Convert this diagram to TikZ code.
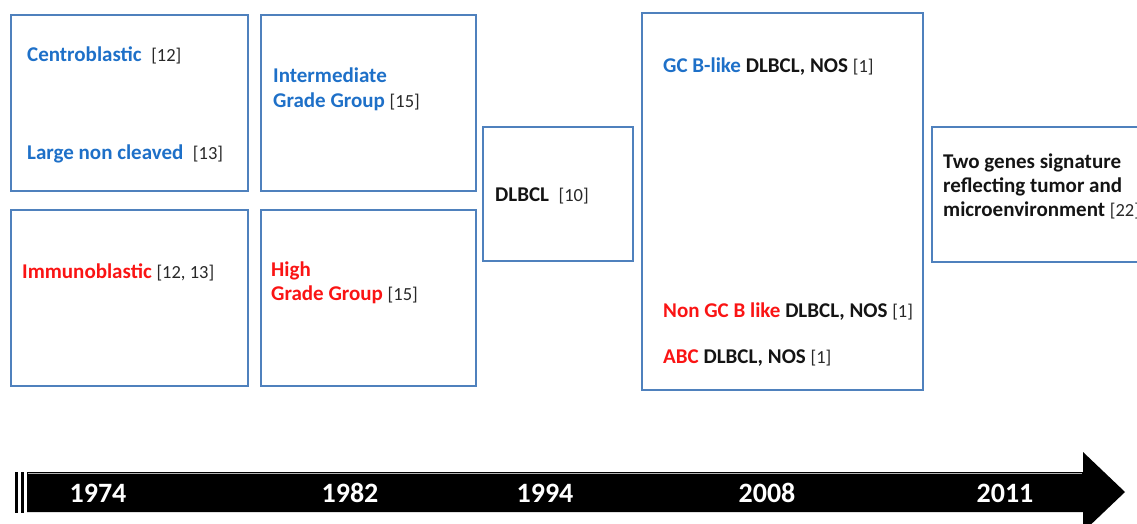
\documentclass[tikz,border=0pt]{standalone}
\usepackage{fontspec}
\setmainfont{Carlito}
\definecolor{boxblue}{RGB}{79,129,189}
\definecolor{tblue}{RGB}{30,112,200}
\definecolor{tred}{RGB}{250,20,20}
\definecolor{tblack}{RGB}{20,20,20}
\definecolor{refgray}{RGB}{40,40,40}
\newcommand{\bl}[1]{\textcolor{tblue}{\bfseries #1}}
\newcommand{\rd}[1]{\textcolor{tred}{\bfseries #1}}
\newcommand{\bk}[1]{\textcolor{tblack}{\bfseries #1}}
\newcommand{\rf}[1]{{\fontsize{18.5}{20}\selectfont\textcolor{refgray}{#1}}}
\begin{document}
\begin{tikzpicture}[x=1pt,y=-1pt,
  box/.style={draw=boxblue, line width=1.6pt, minimum width=#1, inner sep=0pt},
  lbl/.style={anchor=base west, inner sep=0pt, font=\fontsize{21}{25}\selectfont},
  yr/.style={text=white, inner sep=0pt, font=\fontsize{28}{30}\selectfont\bfseries}]
\useasboundingbox (0,0) rectangle (1137,524);
\clip (0,0) rectangle (1137,524);
% boxes
\node[box=237pt, minimum height=176pt] (b1) at (129.5,103) {};
\node[box=237pt, minimum height=176pt] (b2) at (129.5,298) {};
\node[box=215pt, minimum height=176pt] (b3) at (368.5,103) {};
\node[box=215pt, minimum height=176pt] (b4) at (368.5,298) {};
\node[box=150pt, minimum height=134pt] (b5) at (558,194) {};
\node[box=281pt, minimum height=377pt] (b6) at (782.5,201.5) {};
\node[box=230pt, minimum height=135pt] (b7) at (1047,194.5) {};
% texts
\node[lbl] (t1) at (27,62) {\bl{Centroblastic}\ \ \rf{[12]}};
\node[lbl] (t2) at (27,159) {\bl{Large non cleaved}\ \ \rf{[13]}};
\node[lbl] (t3) at (22,278) {\rd{Immunoblastic}\ \rf{[12, 13]}};
\node[lbl] (t4) at (273,83) {\bl{Intermediate}};
\node[lbl] (t5) at (273,108) {\bl{Grade Group}\ \rf{[15]}};
\node[lbl] (t6) at (271,276) {\rd{High}};
\node[lbl] (t7) at (271,300) {\rd{Grade Group}\ \rf{[15]}};
\node[lbl] (t8) at (495,201) {\bk{DLBCL}\ \ \rf{[10]}};
\node[lbl] (t9) at (663,73) {\bl{GC B-like} \bk{DLBCL, NOS} \rf{[1]}};
\node[lbl] (t10) at (663,317) {\rd{Non GC B like} \bk{DLBCL, NOS} \rf{[1]}};
\node[lbl] (t11) at (663,363) {\rd{ABC} \bk{DLBCL, NOS} \rf{[1]}};
\node[lbl] (t12) at (943,168) {\bk{Two genes signature}};
\node[lbl] (t13) at (943,192) {\bk{reflecting tumor and}};
\node[lbl] (t14) at (943,216) {\bk{microenvironment} \rf{[22]}};
% timeline arrow
\fill[black] (27,472) -- (1083,472) -- (1083,452) -- (1125,492) -- (1083,532) -- (1083,512) -- (27,512) -- cycle;
\draw[gray!60, line width=1pt] (28,473) -- (1082,473);
\fill[black] (15,472) rectangle (18,513);
\fill[black] (20.5,472) rectangle (24,513);
\node[yr] (y1) at (98,493) {1974};
\node[yr] (y2) at (350,493) {1982};
\node[yr] (y3) at (545,493) {1994};
\node[yr] (y4) at (767,493) {2008};
\node[yr] (y5) at (1005,493) {2011};
\end{tikzpicture}
\end{document}
